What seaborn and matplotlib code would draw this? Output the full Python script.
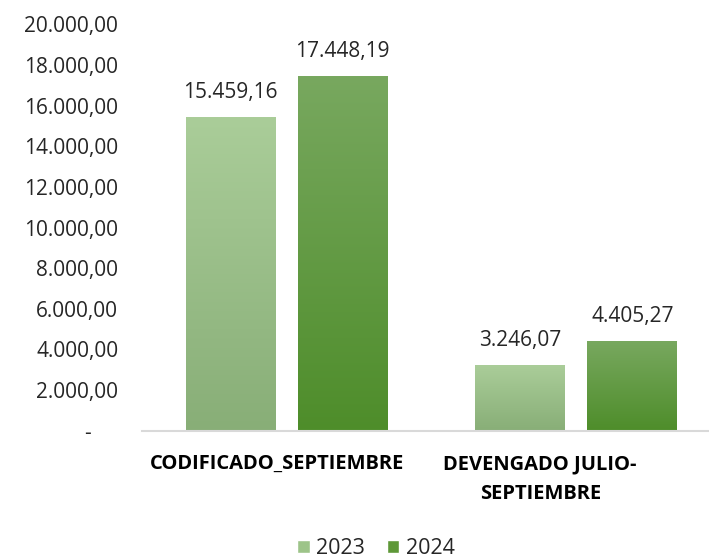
import numpy as np
import pandas as pd
import seaborn as sns
import matplotlib.pyplot as plt
from matplotlib.ticker import FuncFormatter
from matplotlib.patches import Patch
from matplotlib.colors import LinearSegmentedColormap
from matplotlib.transforms import ScaledTranslation

# Datos del gráfico
categorias = ["CODIFICADO_SEPTIEMBRE", "DEVENGADO JULIO-\nSEPTIEMBRE"]
anios = ["2023", "2024"]
valores_2023 = [15459.16, 3246.07]
valores_2024 = [17448.19, 4405.27]

datos = pd.DataFrame({
    "categoria": categorias * 2,
    "anio": [anios[0]] * 2 + [anios[1]] * 2,
    "valor": valores_2023 + valores_2024,
})

# Colores (degradado arriba -> abajo)
colores_base = {"2023": "#9dc489", "2024": "#5e9838"}
degradados = {"2023": ("#aacd99", "#88ae77"), "2024": ("#78a85f", "#4e8d2a")}

sns.set_theme(style="white")
plt.rcParams['font.family'] = ['Open Sans', 'DejaVu Sans']

fig = plt.figure(figsize=(7.09, 5.59), dpi=100)
ax = fig.add_axes([0.2, 0.2297, 0.7986, 0.7265])

sns.barplot(data=datos, x="categoria", y="valor", hue="anio", palette=colores_base,
            width=0.775, gap=0.2, ax=ax, legend=False, saturation=1)

# Degradado dentro de cada barra
for anio, cont in zip(anios, ax.containers):
    cmap = LinearSegmentedColormap.from_list("g" + anio, [degradados[anio][1], degradados[anio][0]])
    grad = np.linspace(0, 1, 256).reshape(-1, 1)
    for barra in cont:
        x0, y0 = barra.get_x(), barra.get_y()
        w, h = barra.get_width(), barra.get_height()
        img = ax.imshow(grad, cmap=cmap, origin="lower", aspect="auto",
                        extent=(x0, x0 + w, y0, y0 + h), zorder=barra.get_zorder() + 0.1)
        img.set_clip_path(barra)
ax.set_xlim(-0.5, 1.455)
ax.set_ylim(0, 20000)

# Formato numérico español
def fmt_es(v):
    s = f"{v:,.2f}"
    return s.replace(",", "X").replace(".", ",").replace("X", ".")

def fmt_eje(v, pos):
    if abs(v) < 1e-9:
        return "-     "
    return fmt_es(v)

ax.set_yticks(np.arange(0, 20001, 2000))
ax.yaxis.set_major_formatter(FuncFormatter(fmt_eje))

for cont in ax.containers:
    ax.bar_label(cont, labels=[fmt_es(b.get_height()) for b in cont], padding=10,
                 fontsize=15, color="#262626")

ax.set_xlabel("")
ax.set_ylabel("")
ax.tick_params(axis="y", length=0, pad=17, labelsize=15, labelcolor="#262626")
ax.tick_params(axis="x", length=0, pad=17, labelsize=14.5, labelcolor="#000000")
for lab in ax.get_xticklabels():
    lab.set_fontweight("bold")
    lab.set_linespacing(1.65)

# Desplazar etiquetas de categoría como en el original
desplazamientos = [-10, -36]
for lab, dx in zip(ax.get_xticklabels(), desplazamientos):
    lab.set_transform(lab.get_transform() + ScaledTranslation(dx / 100, 0, fig.dpi_scale_trans))

sns.despine(ax=ax, left=True)
ax.spines["bottom"].set_color("#d9d9d9")
ax.spines["bottom"].set_linewidth(1.5)

# Leyenda
manejadores = [Patch(facecolor=colores_base[a], label=a) for a in anios]
fig.legend(handles=manejadores, loc="lower center", bbox_to_anchor=(0.53, -0.035), ncol=2,
           frameon=False, fontsize=15.5, handlelength=0.6, handleheight=0.6,
           handletextpad=0.3, columnspacing=1.0, labelcolor="#262626")

fig.savefig("out.png", dpi=100)
